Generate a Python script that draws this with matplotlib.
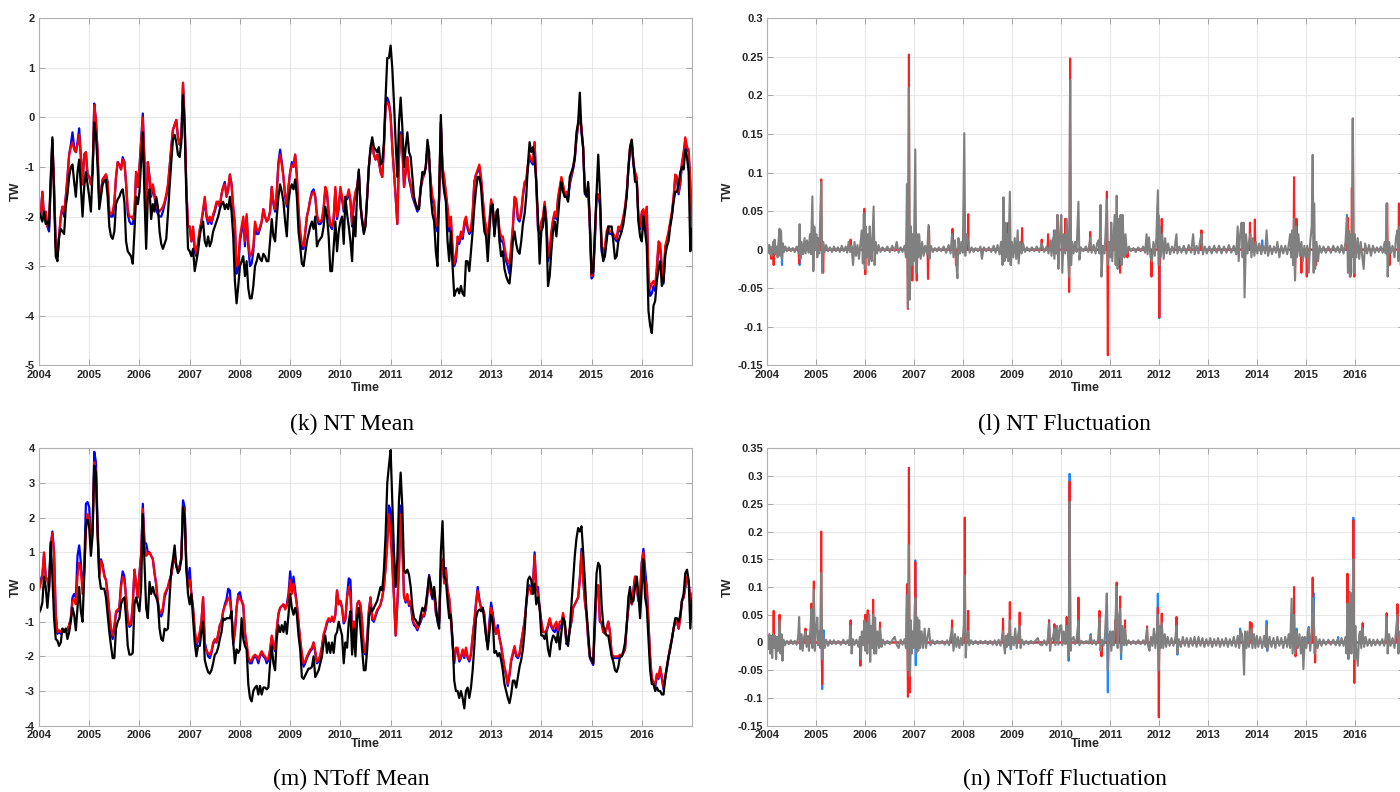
import numpy as np
import matplotlib
matplotlib.use('Agg')
import matplotlib.pyplot as plt
from matplotlib.ticker import FuncFormatter

plt.rcParams['font.family'] = ['Liberation Sans', 'DejaVu Sans']

# smoothed (mean) series are sampled every 1/30 year, 2004.0 .. 2017.0
t_mean = 2004 + np.arange(391) / 30.0

# ---- NT mean ----
nt_black = [
    -1.9, -2.0, -2.1, -1.9, -2.15, -2.1, -2.2, -1.2, -0.4, -1.6,
    -2.8, -2.9, -2.4, -2.25, -2.3, -2.35, -1.8, -1.55, -1.2, -1.0,
    -0.95, -1.3, -1.6, -1.1, -0.85, -1.4, -2.0, -1.4, -1.1, -1.35,
    -1.6, -1.9, -1.1, -0.1, -0.35, -1.0, -1.85, -1.6, -1.35, -1.28,
    -1.25, -1.6, -2.2, -2.4, -2.45, -2.3, -1.75, -1.65, -1.6, -1.5,
    -1.45, -1.7, -2.5, -2.7, -2.75, -2.8, -2.95, -2.3, -1.6, -1.75,
    -1.5, -0.9, -0.3, -1.6, -2.65, -1.6, -1.45, -2.05, -1.75, -1.9,
    -1.6, -1.8, -2.3, -2.55, -2.65, -2.55, -2.45, -1.95, -1.4, -0.9,
    -0.45, -0.35, -0.5, -0.75, -0.8, -0.5, 0.45, -0.2, -1.6, -2.65,
    -2.7, -2.8, -2.65, -3.1, -2.9, -2.7, -2.4, -2.2, -2.1, -2.5,
    -2.6, -2.4, -2.6, -2.5, -2.3, -2.2, -2.1, -2.0, -1.85, -1.75,
    -1.7, -1.85, -1.75, -1.85, -1.6, -1.9, -2.4, -3.3, -3.75, -3.4,
    -3.0, -2.9, -2.8, -3.2, -2.9, -3.45, -3.65, -3.65, -3.4, -3.0,
    -2.9, -2.75, -2.85, -2.9, -2.75, -2.8, -2.9, -2.9, -2.5, -2.05,
    -2.4, -2.5, -2.0, -1.6, -1.35, -1.5, -1.7, -2.1, -2.4, -1.7,
    -1.45, -1.35, -1.45, -1.25, -1.6, -2.3, -2.6, -2.95, -3.0, -2.75,
    -2.5, -2.35, -2.2, -2.1, -2.25, -2.0, -2.6, -2.5, -2.45, -2.4,
    -2.2, -1.8, -2.0, -2.4, -3.1, -3.1, -2.6, -2.1, -2.7, -2.3,
    -2.1, -2.0, -2.55, -1.6, -1.95, -2.2, -2.5, -2.9, -2.0, -2.4,
    -1.5, -1.05, -1.75, -2.1, -2.35, -2.2, -1.6, -1.0, -0.6, -0.4,
    -0.6, -0.65, -0.7, -0.6, -0.95, -0.9, -0.5, 0.4, 1.2, 1.2,
    1.45, 1.0, 0.3, -0.5, -1.2, -0.1, 0.4, -0.2, -1.0, -0.6,
    -0.3, -0.7, -0.8, -1.2, -1.6, -1.75, -1.85, -1.85, -1.4, -1.1,
    -1.15, -1.0, -0.45, -0.7, -1.6, -1.95, -2.1, -2.7, -3.0, -1.5,
    0.05, -1.2, -1.5, -1.7, -2.5, -2.9, -2.3, -3.0, -3.6, -3.5,
    -3.45, -3.55, -3.4, -3.55, -3.6, -2.9, -2.9, -3.1, -2.7, -2.3,
    -1.8, -1.45, -1.2, -1.2, -1.4, -1.9, -2.3, -2.4, -2.9, -2.3,
    -1.8, -1.75, -2.4, -2.0, -1.85, -2.5, -2.8, -2.7, -3.05, -3.2,
    -3.3, -3.35, -3.0, -2.5, -2.3, -2.55, -2.7, -2.75, -2.5, -2.15,
    -1.95, -1.6, -0.95, -0.5, -0.7, -0.6, -0.85, -1.3, -2.0, -2.95,
    -2.3, -2.2, -1.8, -2.2, -3.4, -3.2, -2.7, -2.3, -2.1, -2.4,
    -2.0, -1.6, -1.3, -1.5, -1.6, -1.6, -1.7, -1.2, -1.1, -1.0,
    -0.8, -0.3, -0.1, 0.5, -0.3, -0.6, -1.5, -1.6, -1.3, -2.1,
    -3.15, -3.1, -2.3, -1.5, -0.75, -1.5, -2.6, -2.9, -2.8, -2.5,
    -2.2, -2.2, -2.2, -2.5, -2.85, -2.8, -2.5, -2.4, -2.3, -2.15,
    -1.9, -1.6, -1.05, -0.6, -0.45, -0.9, -1.3, -1.3, -2.1, -2.4,
    -2.5, -2.0, -2.3, -2.6, -3.9, -4.2, -4.35, -3.8, -3.7, -3.3,
    -3.05, -2.9, -3.4, -3.3, -2.8, -2.6, -2.5, -2.2, -2.0, -1.7,
    -1.5, -1.5, -1.35, -1.1, -1.0, -1.05, -0.65, -0.8, -1.1, -2.7, -2.25,
]
nt_red = [
    -1.85, -2.0, -1.5, -2.0, -1.9, -2.2, -2.1, -1.35, -0.45, -1.4,
    -2.6, -2.8, -2.4, -2.0, -1.8, -1.9, -1.6, -1.2, -0.75, -0.6,
    -0.5, -0.65, -0.7, -0.55, -0.35, -0.8, -1.35, -0.75, -0.7, -1.15,
    -1.2, -1.35, -1.1, 0.25, -0.05, -0.7, -1.7, -1.5, -1.25, -1.2,
    -1.15, -1.3, -1.9, -1.95, -1.9, -1.7, -1.2, -0.9, -0.95, -1.05,
    -0.85, -0.9, -1.3, -1.85, -2.0, -2.0, -2.05, -1.9, -1.1, -1.4,
    -1.0, -0.5, 0.0, -0.9, -2.15, -0.9, -1.2, -1.55, -1.35, -1.55,
    -1.75, -1.85, -1.9, -1.85, -1.8, -1.7, -1.55, -1.35, -1.0, -0.6,
    -0.25, -0.15, -0.05, -0.4, -0.55, -0.4, 0.7, -0.1, -1.4, -2.2,
    -2.2, -2.5, -2.2, -2.6, -2.75, -2.5, -2.25, -2.1, -1.85, -1.6,
    -1.95, -2.1, -2.0, -2.1, -1.95, -1.85, -1.7, -1.7, -1.8, -1.55,
    -1.4, -1.35, -1.6, -1.45, -1.15, -1.35, -1.8, -2.1, -3.0, -2.95,
    -2.4, -2.2, -2.0, -2.5, -1.95, -2.5, -2.8, -2.75, -2.6, -2.1,
    -2.25, -2.3, -2.2, -2.1, -1.85, -2.0, -2.1, -2.05, -1.9, -1.4,
    -1.7, -1.85, -1.5, -0.95, -0.75, -0.95, -1.2, -1.55, -1.75, -1.4,
    -1.1, -0.95, -1.0, -0.75, -1.15, -1.85, -2.3, -2.55, -2.6, -2.3,
    -2.0, -1.85, -1.65, -1.55, -1.5, -1.6, -1.95, -2.1, -2.1, -2.05,
    -1.8, -1.4, -1.5, -1.9, -2.15, -2.2, -2.0, -1.4, -2.0, -1.8,
    -1.4, -1.6, -1.85, -1.6, -1.6, -1.45, -1.65, -2.15, -1.7, -1.5,
    -1.4, -1.1, -1.75, -2.05, -2.25, -2.1, -1.6, -1.0, -0.65, -0.55,
    -0.75, -0.85, -0.75, -0.9, -1.1, -1.2, -0.6, 0.2, 0.3, 0.25,
    0.0, -0.6, -1.1, -1.6, -2.15, -0.8, -0.35, -0.6, -1.4, -1.1,
    -0.8, -1.2, -1.35, -1.55, -1.65, -1.75, -1.85, -1.75, -1.4, -1.25,
    -1.15, -1.0, -0.6, -0.85, -1.3, -1.6, -1.7, -2.1, -2.2, -1.6,
    -0.1, -1.0, -1.2, -1.5, -1.8, -2.2, -2.0, -2.6, -2.95, -2.8,
    -2.4, -2.5, -2.3, -2.4, -2.1, -2.0, -2.2, -2.3, -2.25, -1.9,
    -1.3, -1.15, -1.05, -0.95, -1.2, -1.6, -2.0, -2.2, -2.45, -2.1,
    -1.65, -1.8, -2.3, -1.9, -1.9, -2.25, -2.4, -2.4, -2.6, -2.8,
    -2.9, -2.95, -2.6, -2.2, -1.6, -1.65, -2.0, -2.05, -1.9, -1.55,
    -1.3, -1.25, -0.95, -0.75, -0.85, -0.9, -0.5, -1.3, -2.2, -2.3,
    -2.1, -2.0, -1.7, -2.05, -2.8, -2.65, -2.3, -2.05, -1.9, -2.0,
    -1.6, -1.4, -1.2, -1.35, -1.55, -1.5, -1.6, -1.3, -1.15, -1.0,
    -0.8, -0.4, -0.15, 0.05, -0.2, -0.6, -1.5, -1.5, -1.4, -2.2,
    -3.2, -3.1, -2.4, -1.55, -1.55, -1.7, -2.6, -2.7, -2.6, -2.3,
    -2.2, -2.3, -2.3, -2.35, -2.4, -2.45, -2.2, -2.25, -2.15, -2.0,
    -1.8, -1.5, -1.0, -0.6, -0.45, -0.9, -1.1, -1.2, -2.0, -2.2,
    -1.9, -1.85, -2.2, -1.8, -3.2, -3.45, -3.35, -3.3, -3.4, -3.0,
    -2.5, -2.55, -3.0, -3.3, -2.6, -2.45, -2.3, -2.1, -1.9, -1.6,
    -1.15, -1.2, -1.5, -1.3, -0.9, -0.7, -0.4, -0.6, -0.65, -1.3, -2.2,
]
nt_blue = [
    -1.85, -2.0, -1.5, -2.0, -1.9, -2.2, -2.3, -1.35, -0.45, -1.4,
    -2.6, -2.8, -2.4, -2.0, -1.8, -2.0, -1.6, -1.2, -0.75, -0.55,
    -0.3, -0.6, -0.7, -0.5, -0.22, -0.8, -1.35, -0.75, -0.7, -1.15,
    -1.2, -1.35, -1.1, 0.28, -0.05, -0.7, -1.7, -1.5, -1.25, -1.2,
    -1.15, -1.3, -1.95, -2.0, -2.0, -1.75, -1.2, -0.9, -0.95, -1.05,
    -0.8, -0.9, -1.35, -1.95, -2.1, -2.15, -2.15, -1.95, -1.1, -1.4,
    -1.0, -0.45, 0.08, -0.9, -2.2, -0.9, -1.2, -1.6, -1.4, -1.6,
    -1.85, -1.95, -2.0, -2.0, -1.9, -1.75, -1.6, -1.4, -1.0, -0.6,
    -0.25, -0.15, -0.05, -0.4, -0.55, -0.4, 0.7, -0.1, -1.4, -2.2,
    -2.2, -2.5, -2.25, -2.7, -2.8, -2.55, -2.3, -2.1, -1.9, -1.65,
    -2.0, -2.15, -2.05, -2.15, -2.0, -1.9, -1.75, -1.7, -1.8, -1.55,
    -1.4, -1.3, -1.6, -1.45, -1.15, -1.35, -1.85, -2.2, -3.15, -3.05,
    -2.5, -2.3, -2.05, -2.6, -2.0, -2.6, -3.0, -2.95, -2.7, -2.2,
    -2.35, -2.35, -2.25, -2.1, -1.85, -2.0, -2.1, -2.05, -1.9, -1.4,
    -1.75, -1.9, -1.5, -0.9, -0.65, -0.9, -1.2, -1.6, -1.8, -1.4,
    -1.1, -0.9, -1.0, -0.75, -1.2, -1.9, -2.35, -2.65, -2.65, -2.35,
    -2.0, -1.85, -1.65, -1.5, -1.45, -1.6, -2.0, -2.15, -2.15, -2.1,
    -1.85, -1.45, -1.55, -1.95, -2.2, -2.25, -2.05, -1.45, -2.05, -1.85,
    -1.45, -1.65, -1.9, -1.65, -1.65, -1.5, -1.7, -2.2, -1.75, -1.55,
    -1.4, -1.1, -1.8, -2.1, -2.3, -2.15, -1.6, -1.0, -0.65, -0.5,
    -0.75, -0.85, -0.75, -0.9, -1.1, -1.2, -0.6, 0.25, 0.4, 0.3,
    0.05, -0.6, -1.1, -1.6, -2.15, -0.8, -0.3, -0.6, -1.4, -1.1,
    -0.8, -1.25, -1.4, -1.6, -1.7, -1.8, -1.9, -1.8, -1.45, -1.25,
    -1.15, -1.0, -0.6, -0.85, -1.35, -1.65, -1.8, -2.2, -2.3, -1.65,
    -0.1, -1.05, -1.25, -1.55, -1.85, -2.3, -2.1, -2.7, -3.0, -2.9,
    -2.5, -2.55, -2.4, -2.45, -2.2, -2.05, -2.25, -2.35, -2.3, -1.95,
    -1.3, -1.15, -1.1, -1.0, -1.25, -1.65, -2.05, -2.25, -2.5, -2.15,
    -1.7, -1.85, -2.35, -1.95, -1.95, -2.35, -2.5, -2.5, -2.7, -2.9,
    -3.0, -3.15, -2.7, -2.25, -1.65, -1.7, -2.05, -2.1, -1.95, -1.6,
    -1.35, -1.3, -1.0, -0.8, -0.9, -0.95, -0.5, -1.35, -2.25, -2.35,
    -2.15, -2.05, -1.75, -2.1, -2.9, -2.75, -2.4, -2.1, -1.95, -2.05,
    -1.65, -1.45, -1.25, -1.4, -1.6, -1.55, -1.65, -1.35, -1.2, -1.05,
    -0.85, -0.45, -0.15, 0.0, -0.25, -0.65, -1.55, -1.55, -1.45, -2.25,
    -3.25, -3.2, -2.5, -1.6, -1.6, -1.75, -2.7, -2.85, -2.7, -2.4,
    -2.3, -2.35, -2.35, -2.4, -2.45, -2.5, -2.25, -2.3, -2.2, -2.05,
    -1.85, -1.55, -1.05, -0.65, -0.5, -0.95, -1.15, -1.25, -2.05, -2.25,
    -1.95, -1.9, -2.25, -1.85, -3.3, -3.6, -3.55, -3.4, -3.5, -3.1,
    -2.6, -2.65, -3.1, -3.35, -2.65, -2.5, -2.35, -2.15, -1.95, -1.65,
    -1.2, -1.25, -1.55, -1.35, -0.95, -0.75, -0.45, -0.65, -0.7, -1.35, -2.25,
]

# ---- NToff mean ----
ntoff_black = [
    -0.75, -0.65, -0.45, 0.3, 0.0, -0.6, 0.0, 1.3, 0.3, -0.9,
    -1.5, -1.55, -1.7, -1.6, -1.2, -1.3, -1.2, -1.5, -1.3, -1.0,
    -0.6, -0.8, -1.25, -0.6, 0.0, -0.7, -1.0, 0.3, 1.8, 1.95,
    1.7, 0.9, 1.5, 3.5, 3.3, 1.5, 0.3, -0.05, -0.05, -0.05,
    -0.3, -0.8, -1.3, -1.7, -2.05, -2.05, -1.2, -1.0, -0.9, -0.5,
    -0.35, -0.3, -0.9, -1.7, -1.95, -1.95, -1.9, -0.5, -0.3, -0.5,
    -0.7, 0.0, 2.1, 0.7, -0.6, -0.9, 0.15, -0.2, 0.0, -0.2,
    -0.3, -0.45, -1.2, -1.5, -1.55, -1.2, -1.25, -1.2, -0.3, 0.5,
    0.8, 1.2, 0.6, 0.4, 0.5, 0.8, 2.3, 2.0, 0.5, -0.2,
    -0.5, -0.2, -0.9, -1.6, -2.0, -1.7, -1.7, -1.3, -1.0, -2.1,
    -2.3, -2.45, -2.5, -2.4, -2.2, -1.95, -1.9, -1.75, -1.5, -1.3,
    -0.9, -0.95, -0.9, -0.9, -0.9, -0.7, -1.6, -2.2, -1.8, -1.9,
    -1.8, -0.9, -1.5, -1.7, -1.8, -2.8, -3.2, -3.3, -3.0, -2.9,
    -2.85, -3.1, -2.85, -3.1, -2.9, -2.9, -2.95, -2.9, -2.2, -1.7,
    -2.2, -2.4, -1.5, -1.1, -1.3, -1.1, -1.3, -1.0, -1.35, -0.8,
    -0.2, -0.6, -0.8, -0.6, -0.8, -1.4, -1.8, -2.6, -2.65, -2.55,
    -2.45, -2.35, -2.35, -2.3, -2.0, -2.6, -2.5, -2.4, -2.2, -2.0,
    -1.6, -1.4, -1.9, -1.6, -1.9, -1.6, -1.9, -1.4, -1.3, -1.0,
    -1.2, -1.4, -2.2, -1.6, -1.75, -1.0, -0.7, -1.95, -1.2, -2.0,
    -0.9, -0.6, -1.2, -1.8, -2.4, -2.4, -1.8, -0.9, -0.6, -0.7,
    -0.6, -0.5, -0.4, -0.2, 0.0, -0.1, 0.5, 1.5, 3.0, 3.5,
    3.95, 2.5, 1.0, 0.0, 0.8, 2.5, 3.3, 2.3, 0.5, 0.4,
    0.5, 0.35, 0.0, -0.6, -0.9, -0.95, -1.05, -1.1, -0.8, -0.6,
    -0.7, -0.5, -0.1, 0.3, 0.1, -0.3, 0.0, -0.5, -1.0, -1.2,
    1.0, 1.9, 0.3, 0.2, -0.4, -0.9, -0.8, -1.5, -2.7, -3.0,
    -3.0, -3.2, -3.0, -3.2, -3.5, -3.0, -2.9, -3.2, -2.9, -2.4,
    -1.7, -0.9, -0.7, -0.65, -0.7, -0.6, -1.0, -1.4, -1.8, -1.3,
    -0.8, -1.0, -1.9, -1.85, -2.0, -1.9, -2.1, -2.4, -2.8, -3.0,
    -3.2, -3.35, -3.1, -2.7, -2.7, -2.9, -2.6, -2.3, -2.1, -1.8,
    -1.3, -0.5, 0.2, 0.3, 0.2, -0.2, 0.1, -0.5, -0.3, -0.6,
    -1.4, -1.4, -1.5, -1.3, -1.8, -2.0, -1.6, -1.4, -1.45, -1.6,
    -1.3, -1.8, -1.3, -0.9, -1.0, -1.5, -1.7, -1.2, -0.5, 0.2,
    0.9, 1.4, 1.7, 1.6, 1.75, 1.0, 0.2, -0.7, -1.3, -2.0,
    -2.1, -2.2, -0.8, 0.4, 0.7, 0.6, -0.5, -1.1, -1.3, -1.4,
    -1.4, -1.7, -2.0, -2.15, -2.4, -2.45, -2.3, -2.0, -2.0, -1.85,
    -1.6, -1.1, -0.3, 0.0, -0.45, -0.4, 0.0, 0.3, -0.2, -0.9,
    0.0, 0.8, -0.3, -0.6, -1.5, -2.4, -2.8, -2.8, -3.0, -2.9,
    -3.0, -3.0, -3.1, -3.1, -2.6, -2.3, -2.0, -1.8, -1.5, -1.2,
    -0.9, -0.9, -1.0, -0.8, -0.4, -0.2, 0.4, 0.5, 0.2, -1.2, -0.35,
]
ntoff_red = [
    -0.1, 0.1, 0.3, 1.0, 0.3, 0.2, -0.1, 1.2, 1.55, 0.95,
    -0.8, -1.3, -1.25, -1.3, -1.2, -1.3, -1.2, -1.25, -1.1, -0.9,
    -0.4, -0.35, -0.5, 0.3, 0.7, 0.5, -0.2, 0.4, 1.6, 2.1,
    2.0, 1.2, 1.6, 3.6, 3.3, 1.6, 0.3, 0.75, 0.6, 0.3,
    0.2, -0.2, -0.7, -1.2, -1.4, -1.1, -0.7, -0.65, -0.6, 0.0,
    0.3, 0.2, -0.3, -0.9, -1.1, -1.05, -0.5, 0.5, 0.1, -0.3,
    0.4, 0.9, 2.25, 1.2, 0.9, 0.95, 1.0, 0.9, 0.8, 0.4,
    0.1, -0.4, -0.7, -0.75, -0.6, -0.2, -0.1, 0.0, 0.2, 0.35,
    0.65, 0.9, 0.6, 0.5, 0.6, 0.8, 2.3, 2.2, 0.6, 0.0,
    0.2, -0.2, -0.6, -1.2, -1.6, -1.5, -1.3, -1.0, -0.3, -1.7,
    -1.85, -1.9, -1.95, -1.85, -1.6, -1.5, -1.6, -1.35, -1.1, -1.0,
    -0.7, -0.55, -0.45, -0.3, -0.4, -0.8, -1.6, -1.3, -0.6, -0.25,
    -0.35, -0.4, -0.5, -1.3, -1.6, -2.0, -2.15, -2.1, -2.0, -1.95,
    -2.0, -2.1, -1.95, -1.85, -1.95, -2.0, -2.1, -2.05, -1.8, -1.4,
    -1.65, -1.8, -1.2, -0.75, -0.6, -0.55, -0.5, -0.65, -0.55, -0.3,
    0.2, -0.2, 0.1, -0.2, -0.5, -1.0, -1.5, -1.9, -2.2, -2.15,
    -2.0, -1.9, -1.8, -1.75, -1.6, -1.85, -2.15, -2.1, -1.95, -1.7,
    -1.35, -1.2, -1.0, -0.9, -1.0, -0.85, -1.0, -0.8, -0.1, -0.5,
    -0.4, -0.6, -1.0, -0.9, -0.3, 0.0, -0.3, -1.3, -1.0, -1.4,
    -0.5, -0.4, -0.5, -1.0, -1.8, -1.9, -1.5, -0.7, -0.3, -0.9,
    -0.95, -0.8, -0.65, -0.6, -0.5, -0.3, 0.0, 0.5, 1.2, 2.1,
    1.5, 0.6, -0.3, -1.4, -0.5, 0.5, 2.1, 1.2, -0.3, -0.4,
    -0.2, -0.5, -0.4, -0.9, -1.05, -1.1, -1.2, -1.05, -0.95, -0.8,
    -0.8, -0.6, -0.2, 0.3, -0.15, -0.3, -0.1, -0.7, -0.9, -1.0,
    0.5, 0.8, 0.1, 0.5, -0.1, -0.3, -0.9, -1.6, -2.1, -1.75,
    -1.75, -2.1, -2.0, -1.8, -2.0, -1.75, -2.0, -2.1, -1.9, -1.4,
    -1.0, -0.5, -0.1, -0.4, -0.6, -0.6, -0.8, -1.4, -1.7, -1.1,
    -0.6, -0.8, -1.2, -1.35, -1.2, -1.5, -1.7, -2.0, -2.3, -2.5,
    -2.8, -2.5, -2.1, -1.9, -1.7, -1.95, -2.0, -1.9, -1.6, -1.3,
    -1.0, -0.5, -0.1, 0.0, -0.2, 0.0, 0.9, 0.0, -0.2, -0.6,
    -1.0, -1.3, -1.3, -1.25, -1.1, -0.9, -1.1, -1.2, -1.1, -1.0,
    -1.25, -1.0, -1.0, -0.75, -1.05, -1.6, -1.5, -1.2, -1.0, -0.6,
    -0.5, -0.4, -0.3, 0.2, 1.0, 0.2, -0.4, -0.8, -1.5, -2.0,
    -2.1, -2.2, -1.0, 0.0, 0.05, -1.0, -1.0, -1.3, -1.35, -1.2,
    -1.0, -1.3, -1.9, -2.0, -2.0, -2.0, -2.0, -1.95, -2.0, -1.9,
    -1.8, -1.1, -0.6, -0.2, -0.5, -0.1, 0.3, 0.0, -0.4, -0.2,
    0.7, 1.0, 0.2, 0.0, -1.0, -2.0, -2.6, -2.75, -2.8, -2.5,
    -2.6, -2.3, -2.6, -2.9, -2.6, -2.3, -2.0, -1.7, -1.5, -1.2,
    -1.0, -1.0, -1.2, -0.9, -0.4, -0.3, 0.0, 0.3, 0.15, -0.4, -0.2,
]
ntoff_blue = [
    0.0, 0.2, 0.35, 0.95, 0.3, 0.2, 0.0, 1.2, 1.6, 1.0,
    -0.8, -1.35, -1.3, -1.35, -1.25, -1.3, -1.25, -1.25, -1.1, -0.9,
    -0.3, -0.2, -0.3, 0.9, 1.2, 0.7, 0.0, 0.5, 2.4, 2.45,
    2.3, 1.3, 1.7, 3.9, 3.6, 1.8, 0.4, 0.8, 0.65, 0.35,
    0.2, -0.2, -0.75, -1.3, -1.5, -1.2, -0.75, -0.7, -0.6, 0.1,
    0.45, 0.3, -0.3, -0.95, -1.15, -1.1, -0.5, 0.5, 0.1, -0.3,
    0.4, 0.95, 2.4, 1.3, 1.25, 1.0, 1.0, 0.9, 0.8, 0.4,
    0.05, -0.5, -0.8, -0.85, -0.7, -0.3, -0.15, 0.0, 0.2, 0.35,
    0.65, 0.95, 0.6, 0.5, 0.6, 0.85, 2.5, 2.3, 0.65, 0.1,
    0.55, -0.2, -0.6, -1.3, -1.7, -1.55, -1.35, -1.0, -0.3, -1.6,
    -1.8, -2.0, -2.05, -1.9, -1.65, -1.55, -1.6, -1.4, -1.1, -1.0,
    -0.7, -0.5, -0.35, -0.05, -0.1, -0.8, -1.65, -1.3, -0.6, -0.2,
    -0.15, -0.4, -0.55, -1.35, -1.7, -2.1, -2.2, -2.2, -2.05, -2.0,
    -2.05, -2.2, -2.0, -1.9, -2.0, -2.05, -2.2, -2.1, -1.85, -1.45,
    -1.7, -1.85, -1.25, -0.8, -0.6, -0.55, -0.5, -0.6, -0.5, -0.2,
    0.45, -0.1, 0.3, -0.1, -0.5, -1.05, -1.55, -2.0, -2.3, -2.2,
    -2.05, -1.95, -1.85, -1.8, -1.6, -1.9, -2.2, -2.15, -2.0, -1.75,
    -1.4, -1.25, -1.05, -0.95, -1.0, -0.9, -1.0, -0.8, -0.1, -0.5,
    -0.4, -0.6, -1.05, -0.95, -0.25, 0.25, 0.2, -1.3, -1.0, -1.4,
    -0.5, -0.4, -0.55, -1.05, -1.85, -1.95, -1.5, -0.7, -0.3, -0.95,
    -1.0, -0.85, -0.7, -0.6, -0.5, -0.3, 0.0, 0.6, 1.4, 2.35,
    2.2, 0.8, -0.3, -1.4, -0.5, 0.6, 2.35, 1.3, -0.25, -0.45,
    -0.25, -0.55, -0.45, -0.95, -1.1, -1.15, -1.25, -1.1, -1.0, -0.85,
    -0.85, -0.65, -0.2, 0.35, -0.15, -0.35, -0.15, -0.75, -0.95, -1.05,
    0.45, 0.75, 0.15, 0.55, -0.1, -0.35, -0.95, -1.7, -2.2, -1.8,
    -1.8, -2.15, -2.05, -1.85, -2.05, -1.8, -2.05, -2.15, -1.95, -1.45,
    -1.0, -0.45, 0.0, -0.35, -0.6, -0.6, -0.8, -1.4, -1.7, -1.0,
    -0.45, -0.75, -1.15, -1.35, -1.1, -1.45, -1.7, -2.05, -2.35, -2.55,
    -2.85, -2.55, -2.15, -1.95, -1.75, -2.0, -2.05, -1.95, -1.6, -1.3,
    -1.0, -0.45, -0.05, 0.05, -0.15, 0.05, 1.0, 0.0, 0.0, -0.6,
    -1.0, -1.3, -1.3, -1.3, -1.15, -0.95, -1.15, -1.25, -1.3, -1.15,
    -1.35, -1.1, -1.2, -0.8, -1.1, -1.65, -1.55, -1.25, -1.0, -0.6,
    -0.5, -0.4, -0.3, 0.25, 1.1, 0.25, -0.4, -0.8, -1.55, -2.05,
    -2.15, -2.25, -1.2, 0.0, 0.05, -1.0, -1.05, -1.3, -1.2, -1.2,
    -1.0, -1.3, -1.95, -2.05, -2.05, -2.05, -2.05, -2.0, -2.0, -1.9,
    -1.8, -1.1, -0.6, -0.2, -0.5, -0.1, 0.3, 0.0, -0.4, -0.2,
    0.7, 1.1, 0.5, 0.0, -1.0, -2.05, -2.7, -2.8, -2.9, -2.55,
    -2.65, -2.35, -2.65, -2.95, -2.65, -2.35, -2.05, -1.75, -1.5, -1.2,
    -1.0, -1.0, -1.2, -0.9, -0.4, -0.3, 0.0, 0.3, 0.15, -0.4, -0.2,
]

# ---- NT fluctuation: (year, TW) ----
nt_fl_gray = [
    (2004.00, 0.005), (2004.02, -0.004), (2004.04, 0.006), (2004.06, -0.006), (2004.08, 0.003),
    (2004.10, -0.008), (2004.12, 0.01), (2004.14, -0.003), (2004.15, 0.013), (2004.17, -0.006),
    (2004.19, 0.004), (2004.21, -0.01), (2004.23, 0.012), (2004.25, 0.027), (2004.26, -0.008),
    (2004.28, 0.025), (2004.30, -0.012), (2004.32, 0.008), (2004.34, -0.003), (2004.37, 0.004),
    (2004.40, -0.002), (2004.44, 0.003), (2004.48, -0.002), (2004.52, 0.002), (2004.56, -0.003),
    (2004.60, 0.004), (2004.64, -0.005), (2004.66, 0.033), (2004.68, -0.012), (2004.70, 0.01),
    (2004.73, -0.006), (2004.76, 0.015), (2004.78, -0.005), (2004.81, 0.012), (2004.84, -0.004),
    (2004.87, 0.02), (2004.89, -0.006), (2004.92, 0.069), (2004.94, -0.028), (2004.96, 0.03),
    (2004.98, 0.0), (2005.00, 0.02), (2005.02, -0.01), (2005.04, 0.015), (2005.06, -0.005),
    (2005.08, 0.04), (2005.10, 0.088), (2005.12, -0.03), (2005.14, 0.01), (2005.17, -0.003),
    (2005.20, 0.006), (2005.24, -0.002), (2005.28, 0.003), (2005.32, -0.003), (2005.36, 0.004),
    (2005.40, -0.002), (2005.44, 0.003), (2005.48, -0.003), (2005.52, 0.005), (2005.56, -0.002),
    (2005.60, 0.004), (2005.63, -0.004), (2005.66, 0.01), (2005.69, -0.003), (2005.72, 0.005),
    (2005.75, -0.02), (2005.78, 0.01), (2005.81, -0.008), (2005.84, 0.006), (2005.87, -0.012),
    (2005.90, 0.008), (2005.93, 0.025), (2005.95, -0.018), (2005.97, 0.047), (2005.99, -0.025),
    (2006.01, 0.03), (2006.03, -0.01), (2006.05, 0.02), (2006.07, -0.02), (2006.09, 0.03),
    (2006.11, 0.005), (2006.13, -0.015), (2006.15, 0.02), (2006.17, 0.056), (2006.19, -0.02),
    (2006.21, 0.01), (2006.24, -0.005), (2006.27, 0.006), (2006.31, -0.003), (2006.35, 0.003),
    (2006.40, -0.002), (2006.45, 0.004), (2006.50, -0.003), (2006.55, 0.005), (2006.60, -0.002),
    (2006.64, 0.01), (2006.68, -0.004), (2006.72, 0.003), (2006.76, -0.003), (2006.80, 0.005),
    (2006.83, -0.01), (2006.85, 0.085), (2006.87, -0.075), (2006.89, 0.21), (2006.91, -0.065),
    (2006.93, 0.03), (2006.95, -0.02), (2006.97, 0.02), (2006.99, -0.015), (2007.02, 0.13),
    (2007.04, -0.03), (2007.06, 0.02), (2007.08, -0.01), (2007.10, 0.02), (2007.13, -0.012),
    (2007.16, 0.01), (2007.19, -0.008), (2007.22, 0.005), (2007.26, -0.006), (2007.29, 0.032),
    (2007.31, -0.012), (2007.34, 0.005), (2007.38, -0.003), (2007.42, 0.002), (2007.46, -0.002),
    (2007.50, 0.003), (2007.55, -0.002), (2007.60, 0.004), (2007.65, -0.004), (2007.70, 0.006),
    (2007.74, -0.005), (2007.77, 0.02), (2007.80, -0.01), (2007.83, 0.012), (2007.86, -0.02),
    (2007.88, -0.037), (2007.90, 0.015), (2007.93, -0.005), (2007.96, 0.01), (2007.99, -0.004),
    (2008.02, 0.151), (2008.04, -0.008), (2008.07, 0.02), (2008.10, 0.01), (2008.13, -0.004),
    (2008.17, 0.003), (2008.21, -0.003), (2008.25, 0.002), (2008.30, -0.002), (2008.35, 0.004),
    (2008.38, -0.012), (2008.42, 0.003), (2008.47, -0.002), (2008.52, 0.003), (2008.57, -0.003),
    (2008.62, 0.005), (2008.66, -0.004), (2008.70, 0.006), (2008.74, -0.006), (2008.77, 0.01),
    (2008.80, -0.02), (2008.82, 0.068), (2008.84, -0.015), (2008.86, 0.035), (2008.88, -0.01),
    (2008.90, 0.02), (2008.92, -0.015), (2008.95, 0.075), (2008.97, -0.02), (2008.99, 0.01),
    (2009.02, -0.01), (2009.05, 0.015), (2009.08, -0.012), (2009.11, 0.025), (2009.13, -0.018),
    (2009.16, 0.01), (2009.19, -0.005), (2009.22, 0.008), (2009.26, -0.003), (2009.30, 0.003),
    (2009.35, -0.002), (2009.40, 0.003), (2009.45, -0.002), (2009.50, 0.004), (2009.55, -0.003),
    (2009.60, 0.008), (2009.65, -0.003), (2009.70, 0.004), (2009.74, -0.005), (2009.78, 0.012),
    (2009.80, -0.008), (2009.83, 0.015), (2009.86, -0.012), (2009.88, 0.025), (2009.90, -0.005),
    (2009.92, 0.045), (2009.94, -0.025), (2009.97, 0.015), (2010.00, 0.045), (2010.02, -0.03),
    (2010.05, 0.02), (2010.08, -0.005), (2010.11, 0.04), (2010.14, -0.01), (2010.16, -0.035),
    (2010.18, 0.22), (2010.20, -0.02), (2010.22, 0.01), (2010.25, -0.005), (2010.28, 0.01),
    (2010.31, -0.003), (2010.35, 0.062), (2010.37, -0.013), (2010.40, 0.003), (2010.45, -0.002),
    (2010.50, 0.004), (2010.55, -0.003), (2010.59, 0.015), (2010.62, -0.004), (2010.66, 0.006),
    (2010.70, -0.005), (2010.73, 0.008), (2010.76, 0.012), (2010.78, -0.005), (2010.80, 0.058),
    (2010.82, -0.035), (2010.85, 0.005), (2010.88, -0.005), (2010.90, 0.017), (2010.93, 0.065),
    (2010.95, -0.02), (2010.97, 0.01), (2011.00, -0.01), (2011.02, 0.035), (2011.04, -0.015),
    (2011.07, 0.02), (2011.09, 0.045), (2011.11, -0.02), (2011.13, 0.07), (2011.15, -0.025),
    (2011.17, 0.04), (2011.19, -0.01), (2011.21, 0.045), (2011.23, -0.02), (2011.25, 0.045),
    (2011.27, 0.01), (2011.29, -0.01), (2011.31, 0.02), (2011.34, -0.005), (2011.38, 0.004),
    (2011.42, -0.002), (2011.47, 0.002), (2011.52, -0.003), (2011.57, 0.003), (2011.62, -0.002),
    (2011.67, 0.004), (2011.71, -0.004), (2011.74, 0.02), (2011.76, -0.006), (2011.79, 0.016),
    (2011.82, -0.01), (2011.85, -0.015), (2011.88, 0.01), (2011.91, -0.008), (2011.94, 0.015),
    (2011.97, 0.077), (2011.99, -0.02), (2012.01, 0.03), (2012.03, -0.01), (2012.06, 0.02),
    (2012.09, -0.012), (2012.12, 0.015), (2012.15, -0.005), (2012.18, 0.008), (2012.22, -0.006),
    (2012.26, 0.004), (2012.30, -0.004), (2012.35, 0.02), (2012.37, -0.005), (2012.41, 0.004),
    (2012.45, -0.004), (2012.50, 0.005), (2012.55, -0.005), (2012.60, 0.006), (2012.65, -0.004),
    (2012.69, 0.02), (2012.72, -0.006), (2012.76, 0.005), (2012.80, -0.005), (2012.83, 0.01),
    (2012.86, 0.02), (2012.89, -0.006), (2012.93, 0.004), (2012.97, -0.005), (2013.02, 0.004),
    (2013.07, -0.005), (2013.12, 0.005), (2013.17, -0.004), (2013.22, 0.005), (2013.27, -0.005),
    (2013.32, 0.004), (2013.37, -0.004), (2013.42, 0.006), (2013.47, -0.004), (2013.52, 0.005),
    (2013.57, -0.006), (2013.60, 0.03), (2013.62, -0.015), (2013.65, 0.02), (2013.68, 0.035),
    (2013.70, -0.01), (2013.72, 0.035), (2013.74, -0.062), (2013.77, 0.02), (2013.80, -0.005),
    (2013.83, 0.01), (2013.86, 0.02), (2013.88, -0.01), (2013.91, 0.015), (2013.94, -0.008),
    (2013.97, 0.01), (2014.00, -0.005), (2014.04, 0.008), (2014.08, -0.006), (2014.12, 0.005),
    (2014.16, -0.005), (2014.19, 0.025), (2014.22, -0.008), (2014.26, 0.005), (2014.30, -0.006),
    (2014.34, 0.004), (2014.38, -0.004), (2014.41, 0.01), (2014.45, -0.01), (2014.49, 0.005),
    (2014.53, -0.005), (2014.57, 0.005), (2014.61, -0.006), (2014.65, 0.01), (2014.67, 0.02),
    (2014.69, -0.01), (2014.71, 0.025), (2014.73, -0.02), (2014.75, 0.04), (2014.77, -0.04),
    (2014.79, 0.03), (2014.81, -0.01), (2014.84, 0.02), (2014.87, -0.008), (2014.90, 0.01),
    (2014.93, -0.015), (2014.96, 0.005), (2014.99, -0.01), (2015.02, 0.005), (2015.05, -0.03),
    (2015.08, 0.01), (2015.11, 0.03), (2015.13, 0.123), (2015.15, -0.03), (2015.16, 0.06),
    (2015.18, -0.025), (2015.21, 0.01), (2015.24, -0.015), (2015.27, 0.005), (2015.31, -0.004),
    (2015.35, 0.004), (2015.40, -0.004), (2015.45, 0.004), (2015.50, -0.004), (2015.55, 0.005),
    (2015.60, -0.003), (2015.64, 0.004), (2015.68, -0.004), (2015.72, 0.006), (2015.76, -0.005),
    (2015.80, 0.01), (2015.83, 0.042), (2015.85, -0.03), (2015.87, 0.025), (2015.89, -0.035),
    (2015.91, 0.02), (2015.93, -0.01), (2015.95, 0.17), (2015.97, -0.03), (2015.99, 0.02),
    (2016.02, -0.01), (2016.05, 0.015), (2016.08, -0.012), (2016.11, 0.01), (2016.14, -0.008),
    (2016.17, -0.025), (2016.20, 0.008), (2016.24, -0.005), (2016.28, 0.006), (2016.32, -0.008),
    (2016.36, 0.005), (2016.40, -0.004), (2016.44, 0.003), (2016.48, -0.003), (2016.52, 0.004),
    (2016.56, -0.004), (2016.60, 0.01), (2016.62, -0.005), (2016.64, 0.06), (2016.66, -0.035),
    (2016.69, 0.01), (2016.72, -0.005), (2016.76, 0.005), (2016.80, -0.01), (2016.83, 0.015),
    (2016.86, 0.025), (2016.88, -0.015), (2016.90, 0.03), (2016.93, -0.01), (2016.96, 0.01),
    (2016.99, 0.0),
]
nt_fl_red_spikes = [
    (2004.08, -0.012), (2004.13, -0.02), (2004.65, -0.018), (2005.10, 0.091), (2005.14, -0.03),
    (2005.70, 0.013), (2005.98, 0.053), (2006.00, -0.032), (2006.12, -0.012), (2006.20, 0.01),
    (2006.87, -0.077), (2006.89, 0.253), (2006.96, -0.04), (2007.05, -0.04), (2007.28, -0.038),
    (2007.30, 0.03), (2007.78, 0.027), (2007.85, -0.02), (2008.10, 0.046), (2008.92, 0.035),
    (2008.97, -0.02), (2009.20, 0.028), (2009.60, 0.013), (2009.73, 0.02), (2009.92, 0.045),
    (2010.08, 0.04), (2010.16, -0.055), (2010.18, 0.248), (2010.59, 0.023), (2010.93, 0.075),
    (2010.95, -0.137), (2011.10, 0.035), (2011.20, -0.03), (2011.35, -0.01), (2011.84, -0.035),
    (2011.98, 0.045), (2012.00, -0.088), (2012.05, 0.04), (2012.86, 0.025), (2013.60, 0.015),
    (2013.85, 0.035), (2013.95, 0.039), (2014.75, 0.094), (2014.77, -0.035), (2014.80, 0.04),
    (2014.90, -0.03), (2015.01, -0.035), (2015.20, -0.02), (2015.84, 0.042), (2015.90, -0.035),
    (2015.93, 0.08), (2015.95, 0.17), (2015.98, -0.035), (2016.65, 0.06), (2016.70, -0.02),
    (2016.89, 0.06), (2016.93, -0.02),
]
nt_fl_blue_spikes = [
    (2004.30, -0.02), (2004.66, -0.02), (2008.88, 0.027), (2009.85, 0.025), (2012.00, -0.089),
    (2013.95, 0.012), (2014.10, 0.012), (2015.83, 0.045),
]

# ---- NToff fluctuation: (year, TW) ----
ntoff_fl_gray = [
    (2004.00, 0.008), (2004.02, -0.012), (2004.04, 0.015), (2004.06, -0.02), (2004.08, 0.012),
    (2004.10, -0.028), (2004.12, 0.015), (2004.14, -0.01), (2004.16, 0.012), (2004.18, -0.03),
    (2004.20, 0.01), (2004.22, -0.015), (2004.25, 0.04), (2004.27, -0.02), (2004.29, 0.015),
    (2004.31, -0.033), (2004.33, 0.005), (2004.36, -0.005), (2004.40, 0.003), (2004.44, -0.003),
    (2004.48, 0.004), (2004.52, -0.003), (2004.56, 0.003), (2004.60, -0.004), (2004.63, 0.01),
    (2004.65, 0.046), (2004.67, -0.012), (2004.70, 0.015), (2004.72, -0.015), (2004.75, 0.01),
    (2004.78, 0.02), (2004.80, -0.008), (2004.83, 0.012), (2004.85, -0.015), (2004.88, 0.025),
    (2004.90, 0.06), (2004.92, -0.01), (2004.95, 0.095), (2004.97, -0.015), (2004.99, 0.02),
    (2005.02, 0.045), (2005.04, -0.005), (2005.06, 0.02), (2005.08, -0.01), (2005.10, 0.125),
    (2005.12, -0.03), (2005.14, 0.015), (2005.17, -0.01), (2005.20, 0.005), (2005.24, -0.006),
    (2005.28, 0.004), (2005.32, -0.003), (2005.36, 0.004), (2005.40, -0.003), (2005.45, 0.003),
    (2005.50, -0.004), (2005.55, 0.005), (2005.60, -0.003), (2005.64, 0.004), (2005.67, -0.005),
    (2005.70, 0.03), (2005.72, -0.02), (2005.75, 0.006), (2005.78, -0.004), (2005.82, 0.005),
    (2005.86, -0.008), (2005.89, 0.01), (2005.91, -0.03), (2005.93, 0.02), (2005.96, -0.005),
    (2005.98, 0.04), (2006.00, -0.015), (2006.02, 0.035), (2006.04, -0.02), (2006.06, 0.04),
    (2006.08, 0.05), (2006.10, -0.035), (2006.12, 0.03), (2006.14, -0.01), (2006.16, 0.05),
    (2006.18, -0.02), (2006.20, 0.045), (2006.22, -0.02), (2006.25, 0.02), (2006.28, -0.01),
    (2006.30, 0.025), (2006.33, -0.008), (2006.36, 0.005), (2006.40, -0.004), (2006.45, 0.003),
    (2006.50, -0.003), (2006.55, 0.004), (2006.60, 0.01), (2006.64, -0.004), (2006.68, -0.01),
    (2006.72, 0.005), (2006.76, -0.004), (2006.80, 0.006), (2006.83, -0.01), (2006.85, 0.085),
    (2006.87, -0.05), (2006.89, 0.175), (2006.91, -0.06), (2006.93, 0.04), (2006.95, -0.02),
    (2006.97, 0.02), (2006.99, -0.01), (2007.01, 0.063), (2007.02, 0.08), (2007.04, -0.02),
    (2007.06, 0.045), (2007.08, -0.015), (2007.10, 0.04), (2007.12, -0.01), (2007.15, 0.02),
    (2007.18, -0.01), (2007.21, 0.025), (2007.24, -0.01), (2007.27, 0.01), (2007.30, 0.025),
    (2007.33, -0.005), (2007.37, 0.004), (2007.42, -0.003), (2007.47, 0.003), (2007.52, -0.002),
    (2007.57, 0.003), (2007.62, -0.004), (2007.67, 0.004), (2007.71, -0.005), (2007.74, 0.01),
    (2007.77, 0.025), (2007.80, -0.015), (2007.83, 0.015), (2007.86, -0.008), (2007.89, 0.01),
    (2007.92, -0.01), (2007.95, 0.008), (2007.98, -0.005), (2008.01, 0.03), (2008.03, 0.12),
    (2008.05, -0.027), (2008.07, 0.01), (2008.10, 0.02), (2008.12, -0.005), (2008.16, 0.004),
    (2008.20, -0.003), (2008.25, 0.003), (2008.30, -0.003), (2008.35, 0.003), (2008.40, -0.002),
    (2008.45, 0.003), (2008.50, -0.003), (2008.55, 0.003), (2008.60, -0.004), (2008.64, 0.004),
    (2008.68, -0.005), (2008.72, 0.005), (2008.76, -0.006), (2008.79, 0.01), (2008.81, 0.02),
    (2008.83, -0.005), (2008.85, -0.02), (2008.87, 0.012), (2008.89, -0.008), (2008.91, 0.015),
    (2008.93, -0.005), (2008.95, 0.04), (2008.97, -0.01), (2009.00, 0.01), (2009.03, -0.005),
    (2009.06, 0.025), (2009.09, -0.01), (2009.12, 0.015), (2009.15, 0.03), (2009.17, -0.01),
    (2009.20, 0.005), (2009.24, -0.004), (2009.28, 0.003), (2009.33, -0.003), (2009.38, 0.003),
    (2009.43, -0.002), (2009.48, 0.004), (2009.52, 0.008), (2009.56, -0.003), (2009.61, -0.005),
    (2009.65, 0.004), (2009.70, -0.005), (2009.73, 0.01), (2009.75, 0.035), (2009.77, -0.015),
    (2009.80, 0.005), (2009.83, 0.01), (2009.86, 0.025), (2009.88, -0.005), (2009.91, 0.03),
    (2009.94, -0.004), (2009.97, 0.03), (2010.00, 0.031), (2010.02, -0.005), (2010.05, 0.02),
    (2010.08, -0.003), (2010.11, 0.03), (2010.13, 0.0), (2010.15, -0.025), (2010.17, 0.254),
    (2010.19, -0.015), (2010.21, 0.005), (2010.25, 0.01), (2010.28, -0.003), (2010.31, 0.004),
    (2010.35, 0.04), (2010.37, -0.005), (2010.41, 0.003), (2010.46, -0.002), (2010.51, 0.003),
    (2010.56, -0.002), (2010.60, 0.012), (2010.63, -0.003), (2010.67, 0.004), (2010.71, -0.004),
    (2010.75, 0.005), (2010.78, 0.045), (2010.80, -0.015), (2010.83, 0.005), (2010.86, -0.006),
    (2010.89, 0.01), (2010.93, 0.088), (2010.95, -0.05), (2010.97, 0.01), (2011.00, 0.02),
    (2011.02, -0.015), (2011.05, 0.02), (2011.07, -0.005), (2011.10, 0.03), (2011.13, 0.1),
    (2011.15, -0.01), (2011.17, 0.04), (2011.20, 0.06), (2011.22, -0.02), (2011.25, 0.03),
    (2011.28, -0.005), (2011.30, 0.025), (2011.33, -0.005), (2011.37, 0.004), (2011.42, -0.003),
    (2011.47, 0.003), (2011.52, -0.003), (2011.57, 0.004), (2011.62, -0.003), (2011.67, 0.004),
    (2011.71, -0.004), (2011.75, 0.025), (2011.77, -0.005), (2011.80, -0.015), (2011.83, 0.01),
    (2011.86, -0.006), (2011.89, 0.025), (2011.92, -0.01), (2011.95, 0.02), (2011.97, 0.05),
    (2011.99, -0.05), (2012.01, 0.03), (2012.03, -0.01), (2012.05, 0.035), (2012.08, -0.01),
    (2012.11, 0.015), (2012.14, -0.008), (2012.17, 0.01), (2012.21, -0.006), (2012.25, 0.008),
    (2012.29, -0.006), (2012.33, 0.01), (2012.35, 0.03), (2012.37, -0.02), (2012.40, 0.006),
    (2012.44, -0.008), (2012.48, 0.01), (2012.52, -0.006), (2012.56, 0.008), (2012.60, -0.008),
    (2012.64, 0.008), (2012.68, -0.006), (2012.72, 0.01), (2012.76, -0.008), (2012.80, 0.01),
    (2012.84, -0.006), (2012.88, 0.008), (2012.92, -0.008), (2012.96, 0.006), (2013.00, -0.006),
    (2013.04, 0.008), (2013.08, -0.008), (2013.12, 0.006), (2013.16, -0.006), (2013.20, 0.008),
    (2013.24, -0.008), (2013.28, 0.006), (2013.32, -0.006), (2013.36, 0.008), (2013.40, -0.008),
    (2013.44, 0.006), (2013.48, -0.006), (2013.52, 0.01), (2013.56, -0.008), (2013.60, 0.012),
    (2013.63, -0.01), (2013.66, 0.02), (2013.69, 0.015), (2013.71, -0.01), (2013.73, -0.058),
    (2013.75, 0.02), (2013.78, -0.01), (2013.80, 0.02), (2013.83, -0.008), (2013.86, 0.02),
    (2013.88, 0.025), (2013.90, -0.01), (2013.93, 0.015), (2013.96, -0.01), (2013.99, 0.012),
    (2014.02, -0.008), (2014.06, 0.01), (2014.10, -0.01), (2014.14, 0.012), (2014.17, -0.008),
    (2014.19, 0.03), (2014.21, -0.015), (2014.25, 0.01), (2014.29, -0.008), (2014.33, 0.008),
    (2014.37, -0.01), (2014.41, 0.01), (2014.45, -0.006), (2014.49, 0.008), (2014.53, -0.01),
    (2014.57, 0.01), (2014.61, -0.008), (2014.64, 0.015), (2014.67, -0.01), (2014.70, 0.079),
    (2014.72, -0.02), (2014.75, 0.05), (2014.77, -0.02), (2014.80, 0.02), (2014.83, -0.01),
    (2014.86, 0.015), (2014.89, -0.02), (2014.92, 0.01), (2014.94, -0.048), (2014.97, 0.01),
    (2015.00, -0.01), (2015.03, 0.02), (2015.05, 0.025), (2015.08, -0.015), (2015.11, 0.02),
    (2015.13, 0.08), (2015.15, 0.07), (2015.17, -0.02), (2015.20, 0.01), (2015.23, -0.01),
    (2015.27, 0.006), (2015.31, -0.006), (2015.35, 0.005), (2015.40, -0.004), (2015.45, 0.005),
    (2015.50, -0.004), (2015.55, 0.005), (2015.60, -0.005), (2015.64, 0.006), (2015.68, -0.006),
    (2015.72, 0.008), (2015.76, -0.006), (2015.80, 0.01), (2015.82, -0.02), (2015.84, 0.07),
    (2015.86, -0.03), (2015.88, 0.06), (2015.90, 0.09), (2015.92, -0.02), (2015.94, 0.05),
    (2015.96, 0.15), (2015.98, -0.03), (2016.00, 0.03), (2016.02, -0.01), (2016.05, -0.042),
    (2016.08, 0.015), (2016.10, 0.02), (2016.12, -0.01), (2016.15, 0.025), (2016.18, -0.008),
    (2016.21, 0.01), (2016.25, -0.006), (2016.29, 0.006), (2016.33, -0.006), (2016.37, 0.005),
    (2016.41, -0.005), (2016.45, 0.005), (2016.50, -0.005), (2016.55, 0.006), (2016.59, -0.006),
    (2016.62, 0.01), (2016.64, 0.045), (2016.66, -0.02), (2016.69, 0.015), (2016.72, -0.006),
    (2016.76, 0.008), (2016.80, -0.01), (2016.83, 0.02), (2016.86, 0.05), (2016.88, -0.02),
    (2016.91, 0.02), (2016.94, -0.01), (2016.97, 0.015), (2017.00, 0.0),
]
ntoff_fl_red_spikes = [
    (2004.13, 0.057), (2004.25, 0.05), (2004.78, 0.025), (2004.90, 0.07), (2004.95, 0.11),
    (2005.10, 0.2), (2005.12, -0.075), (2005.70, 0.04), (2005.90, -0.042), (2006.00, 0.05),
    (2006.05, 0.058), (2006.16, 0.077), (2006.30, 0.036), (2006.85, 0.105), (2006.87, -0.098),
    (2006.89, 0.315), (2006.91, -0.09), (2007.02, 0.145), (2007.77, 0.04), (2008.03, 0.225),
    (2008.10, 0.057), (2008.81, 0.043), (2008.95, 0.073), (2009.15, 0.054), (2009.75, 0.04),
    (2009.86, 0.033), (2010.11, 0.046), (2010.17, 0.29), (2010.35, 0.081), (2010.78, 0.057),
    (2010.82, -0.025), (2011.10, 0.04), (2011.13, 0.108), (2011.20, 0.083), (2011.30, 0.04),
    (2011.75, 0.029), (2011.97, 0.063), (2011.99, -0.135), (2012.05, 0.052), (2012.35, 0.046),
    (2013.85, 0.037), (2013.88, 0.035), (2014.75, 0.1), (2014.78, -0.025), (2015.13, 0.117),
    (2015.18, -0.036), (2015.84, 0.124), (2015.88, 0.091), (2015.96, 0.22), (2015.98, -0.073),
    (2016.15, 0.035), (2016.64, 0.053), (2016.86, 0.069),
]
ntoff_fl_blue_spikes = [
    (2005.12, -0.084), (2005.15, 0.022), (2007.02, 0.148), (2007.03, -0.041), (2008.97, -0.012),
    (2009.75, 0.04), (2010.15, -0.033), (2010.17, 0.304), (2010.60, 0.015), (2010.93, 0.088),
    (2010.95, -0.09), (2011.22, -0.03), (2011.97, 0.088), (2012.37, -0.022), (2013.65, 0.025),
    (2014.19, 0.039), (2014.20, -0.015), (2014.80, 0.025), (2015.05, 0.028), (2015.15, 0.089),
    (2015.65, 0.01), (2015.96, 0.225),
]

years = list(range(2004, 2017))
yt_nt_mean = [-5, -4, -3, -2, -1, 0, 1, 2]
yt_ntoff_mean = [-4, -3, -2, -1, 0, 1, 2, 3, 4]
yt_nt_fl = [-0.15, -0.1, -0.05, 0, 0.05, 0.1, 0.15, 0.2, 0.25, 0.3]
yt_ntoff_fl = [-0.15, -0.1, -0.05, 0, 0.05, 0.1, 0.15, 0.2, 0.25, 0.3, 0.35]

TXT = '#262626'


def spike_line(spikes, half=0.01):
    # zero baseline with narrow excursions at each listed time
    pts = [(2004.0, 0.0), (2017.0, 0.0)]
    for t, v in spikes:
        pts += [(t - half, 0.0), (t, v), (t + half, 0.0)]
    pts.sort()
    a = np.array(pts)
    return a[:, 0], a[:, 1]


def style(ax, yticks, xpad, ylab_x, xlab_y):
    ax.set_xlim(2004, 2017)
    ax.set_ylim(yticks[0], yticks[-1])
    ax.set_xticks(years)
    ax.set_yticks(yticks)
    ax.yaxis.set_major_formatter(FuncFormatter(lambda v, p: '%g' % round(v, 3)))
    ax.grid(True, color='#e8e8e8', lw=0.8)
    ax.set_axisbelow(True)
    ax.tick_params(direction='in', length=4, width=0.6, color='#9a9a9a',
                   top=True, right=True, labelsize=8, labelcolor=TXT)
    ax.tick_params(axis='x', pad=xpad)
    ax.tick_params(axis='y', pad=3)
    for lab in ax.get_xticklabels() + ax.get_yticklabels():
        lab.set_fontweight('bold')
    for s in ax.spines.values():
        s.set_color('#b0b0b0')
        s.set_linewidth(0.8)
    ax.set_xlabel('Time', fontsize=9, fontweight='bold', color=TXT)
    ax.set_ylabel('TW', fontsize=9, fontweight='bold', color=TXT)
    ax.xaxis.set_label_coords(0.5, xlab_y)
    ax.yaxis.set_label_coords(ylab_x, 0.5)


fig = plt.figure(figsize=(14, 7.92), dpi=100)
W, H = 1400.0, 792.0

def add_ax(x0, x1, ytop, ybot):
    return fig.add_axes([x0 / W, 1 - ybot / H, (x1 - x0) / W, (ybot - ytop) / H])

ax_k = add_ax(39, 692, 18.3, 365.3)
ax_l = add_ax(767.3, 1404.3, 18.3, 365.3)
ax_m = add_ax(39, 692, 448.3, 725.7)
ax_n = add_ax(767.3, 1404.3, 448.3, 725.7)

# mean panels
for ax, b, r, k in [(ax_k, nt_blue, nt_red, nt_black),
                    (ax_m, ntoff_blue, ntoff_red, ntoff_black)]:
    ax.plot(t_mean, b, color='#0000ff', lw=1.6)
    ax.plot(t_mean, r, color='#ff0000', lw=1.6)
    ax.plot(t_mean, k, color='black', lw=1.6)

# fluctuation panels
for ax, g, rs, bs in [(ax_l, nt_fl_gray, nt_fl_red_spikes, nt_fl_blue_spikes),
                      (ax_n, ntoff_fl_gray, ntoff_fl_red_spikes, ntoff_fl_blue_spikes)]:
    bx, by = spike_line(bs)
    rx, ry = spike_line(rs)
    ga = np.array(g)
    ax.plot(bx, by, color='#1e88ff', lw=1.5)
    ax.plot(rx, ry, color='#ff1f1f', lw=1.5)
    ax.plot(ga[:, 0], ga[:, 1], color='#808080', lw=1.5)

style(ax_k, yt_nt_mean, 3.5, -0.026, -0.047)
style(ax_l, yt_nt_fl, 3.5, -0.052, -0.047)
style(ax_m, yt_ntoff_mean, 3.0, -0.026, -0.046)
style(ax_n, yt_ntoff_fl, 3.0, -0.052, -0.046)

cap = dict(ha='center', va='center', fontsize=17, family='Liberation Serif', color='black')
fig.text(351.5 / W, 1 - 424 / H, '(k) NT Mean', **cap)
fig.text(1064.5 / W, 1 - 424 / H, '(l) NT Fluctuation', **cap)
fig.text(351.5 / W, 1 - 779 / H, '(m) NToff Mean', **cap)
fig.text(1064.5 / W, 1 - 779 / H, '(n) NToff Fluctuation', **cap)

fig.savefig('out.png', dpi=100, facecolor='white')
